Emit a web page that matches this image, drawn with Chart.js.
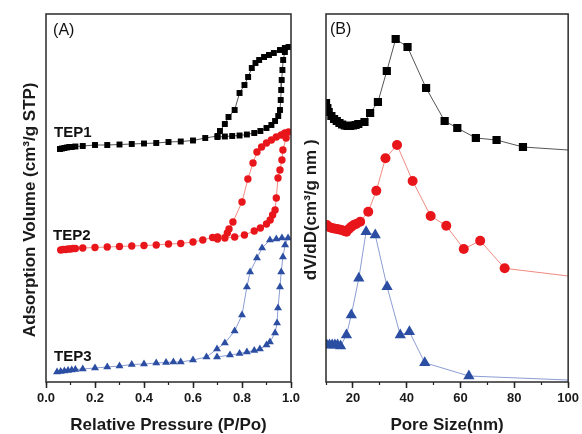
<!DOCTYPE html>
<html>
<head>
<meta charset="utf-8">
<script src="https://cdn.jsdelivr.net/npm/chart.js@4"></script>
<style>
html, body { margin: 0; padding: 0; background: #fff; overflow: hidden; }
#wrapA { position: absolute; left: 0; top: 0; }
#wrapB { position: absolute; left: 290px; top: 0; }
</style>
</head>
<body>
<div id="wrapA"><canvas id="chartA" width="310" height="434"></canvas></div>
<div id="wrapB"><canvas id="chartB" width="292" height="434"></canvas></div>
<script>
// (A) isotherms, relative pressure vs adsorbed volume (arbitrary offset units)
const tep1P = [0.057,0.065,0.075,0.085,0.095,0.105,0.12,0.15,0.2,0.25,0.3,0.35,0.4,0.45,0.5,0.55,0.6,0.65,0.7,0.71,0.73,0.745,0.77,0.79,0.81,0.825,0.84,0.855,0.87,0.89,0.91,0.93,0.955,0.975,0.99,
  0.975,0.968,0.965,0.962,0.96,0.958,0.955,0.948,0.935,0.92,0.9,0.875,0.85,0.82,0.79,0.76,0.73,0.7];
const tep1V = [233,233.5,234,234.5,235,235,235.5,236,237,237,237.5,238,238.5,239,240,240.5,241.5,244,246,251,258,265,272,289,297,305,314,319,322,325,327,329,332,334,335,
  330,322,312,302,292,282,272,266,261,257,254,251,249,247.5,246.5,246,245.5,245];

const tep2P = [0.06,0.07,0.08,0.09,0.1,0.11,0.12,0.15,0.2,0.25,0.3,0.35,0.4,0.45,0.5,0.55,0.6,0.64,0.68,0.7,0.74,0.747,0.763,0.8,0.824,0.845,0.861,0.88,0.9,0.92,0.94,0.96,0.975,0.99,
  0.98,0.967,0.963,0.955,0.947,0.94,0.935,0.925,0.915,0.9,0.875,0.85,0.81,0.77,0.73,0.7];
const tep2V = [132,132.5,132.5,133,133,133.5,133.5,134,134.5,135,135.5,136,136.5,137,138,138.5,140,142,144.5,145,149,153,160,180,203,219,230,235,239,242,245,247,249,250,
  244,232,222,212,204,184,172,167,162,158,154,151,147,145,144,143];

const tep3P = [0.045,0.06,0.075,0.09,0.105,0.12,0.15,0.2,0.25,0.3,0.35,0.4,0.45,0.49,0.52,0.55,0.6,0.655,0.698,0.73,0.77,0.8,0.82,0.833,0.861,0.882,0.914,0.94,0.963,0.988,
  0.976,0.967,0.96,0.955,0.947,0.943,0.935,0.914,0.9,0.873,0.85,0.82,0.79,0.751,0.698];
const tep3V = [10,10.5,11,11.5,12,12.5,13,14,15,16,17.5,18,19,19.5,20,20,22,25,33,39,51,67,95,110,124,134,142,143,144,144,
  137,125,110,95,74,59,49,40,37,33,31.5,30,28.5,27,25];

// (B) pore size distribution
const pore1D = [10,10.5,11,12,13,14,15,16,17,18,19,20,21,22,24.3,26.4,29.3,32.6,35.9,40.3,47.2,54.1,58.8,65.7,73.4,83.2,100];
const pore1V = [279,274,270,266,263,261,259,257.5,256.5,256,256,256.5,257,258,260,269,280,311,343,335,294,261,254,244,242,235,232];

const pore2D = [10.3,11.2,12.1,13,14,14.9,15.8,16.7,17.6,18.5,19.4,20.3,21.2,22.7,25.7,28.7,32.1,36.4,42.2,48.9,54.7,61.2,67.3,76.4,100];
const pore2V = [157,155,154,153.5,153,152.5,152,151,150.3,153,155.3,157,158,160.3,170.3,191.3,223.7,237,201,166,156.3,133,141.3,113.7,106];

const pore3D = [10.3,11.3,12.3,13.3,14.3,15.4,17.6,19.4,22.2,24.9,28.3,32.7,37.6,41,46.7,63.1,100];
const pore3V = [37,37,37,37,37,36,47,67,103.7,150.3,147,95.3,47,50.3,19.3,6,2];

const pressureTicks = [0, 1, 0.2, 0.1];
const poreTicks = [10, 100, 20, 10];

Chart.defaults.font.family = 'Liberation Sans, Arial, sans-serif';
Chart.defaults.color = '#1a1a1a';

// trailing blanks push the rotated titles a little lower, like the original
const pad = '\u00a0\u00a0\u00a0\u00a0\u00a0';

function pts(xs, ys) {
  return xs.map((x, i) => ({x: x, y: ys[i]}));
}

function series(xs, ys, color, lineColor, style, r, endless) {
  const n = xs.length;
  return {
    data: pts(xs, ys),
    showLine: true,
    borderColor: lineColor,
    borderWidth: 1,
    backgroundColor: color,
    pointBackgroundColor: color,
    pointBorderWidth: 0,
    pointStyle: style,
    pointRadius: endless ? (c => c.dataIndex === n - 1 ? 0 : r) : r
  };
}

function frameAndNotes(notes) {
  return {
    id: 'frameNotes',
    afterDatasetsDraw(chart) {
      const {ctx, chartArea: a, scales} = chart;
      ctx.save();
      ctx.strokeStyle = '#2a2a2a';
      ctx.lineWidth = 1.5;
      ctx.strokeRect(a.left, a.top, a.right - a.left, a.bottom - a.top);
      ctx.fillStyle = '#111';
      ctx.textAlign = 'left';
      ctx.textBaseline = 'middle';
      notes.forEach(n => {
        ctx.font = n.font;
        ctx.fillText(n.text, scales.x.getPixelForValue(n.x), scales.y.getPixelForValue(n.y));
      });
      ctx.restore();
    }
  };
}

function makeScales(t, title, yTitle, yWidth, yPad, fmt) {
  return {
    x: {
      type: 'linear', position: 'bottom', weight: 1,
      min: t[0], max: t[1],
      ticks: {stepSize: t[2], includeBounds: false, autoSkip: false, padding: 3,
        font: {size: 13, weight: 'bold'}, callback: fmt},
      grid: {drawOnChartArea: false, tickLength: 6, tickColor: '#222', tickWidth: 1.5},
      border: {display: false},
      title: {display: true, text: title, font: {size: 17, weight: 'bold', lineHeight: 1}, padding: 0},
      afterFit(s) { s.height = 52; }
    },
    xm: {
      type: 'linear', position: 'bottom', weight: 0,
      min: t[0], max: t[1],
      ticks: {stepSize: t[3], display: false, autoSkip: false},
      grid: {drawOnChartArea: false, tickLength: 3, tickColor: '#222', tickWidth: 1.2},
      border: {display: false},
      afterFit(s) { s.height = 0; }
    },
    y: {
      type: 'linear', min: 0, max: 368,
      ticks: {display: false},
      grid: {display: false},
      border: {display: false},
      title: {display: true, text: yTitle + pad, font: {size: 17, weight: 'bold', lineHeight: 1.2}, padding: {top: yPad, bottom: 0}},
      afterFit(s) { s.width = yWidth; }
    }
  };
}

new Chart(document.getElementById('chartA'), {
  type: 'scatter',
  data: {
    datasets: [
      series(tep1P, tep1V, '#000000', '#555555', 'rect', 4.2),
      series(tep2P, tep2V, '#e8161b', '#f08a80', 'circle', 3.7),
      series(tep3P, tep3V, '#2b4ea3', '#8b9dd2', 'triangle', 4.6)
    ]
  },
  options: {
    responsive: false,
    animation: false,
    events: [],
    layout: {padding: {left: 0, right: 19, top: 14, bottom: 0}},
    plugins: {legend: {display: false}, tooltip: {enabled: false}},
    scales: makeScales(pressureTicks, 'Relative Pressure (P/Po)', 'Adsorption Volume (cm³/g STP)', 46, 20,
      v => v.toFixed(1))
  },
  plugins: [frameAndNotes([
    {text: '(A)', x: 0.029, y: 351, font: '16px Liberation Sans, Arial, sans-serif'},
    {text: 'TEP1', x: 0.033, y: 249, font: 'bold 15px Liberation Sans, Arial, sans-serif'},
    {text: 'TEP2', x: 0.029, y: 146.5, font: 'bold 15px Liberation Sans, Arial, sans-serif'},
    {text: 'TEP3', x: 0.033, y: 25.5, font: 'bold 15px Liberation Sans, Arial, sans-serif'}
  ])]
});

new Chart(document.getElementById('chartB'), {
  type: 'scatter',
  data: {
    datasets: [
      series(pore1D, pore1V, '#000000', '#555555', 'rect', 5.8, true),
      series(pore2D, pore2V, '#e8161b', '#f08a80', 'circle', 5, true),
      series(pore3D, pore3V, '#2b4ea3', '#8b9dd2', 'triangle', 6.5, true)
    ]
  },
  options: {
    responsive: false,
    animation: false,
    events: [],
    layout: {padding: {left: 0, right: 12, top: 14, bottom: 0}},
    plugins: {legend: {display: false}, tooltip: {enabled: false}},
    scales: makeScales(poreTicks, 'Pore Size(nm)', 'dV/dD(cm³/g nm )', 36, 11,
      v => String(v))
  },
  plugins: [frameAndNotes([
    {text: '(B)', x: 11.5, y: 352, font: '16px Liberation Sans, Arial, sans-serif'}
  ])]
});
</script>
</body>
</html>
